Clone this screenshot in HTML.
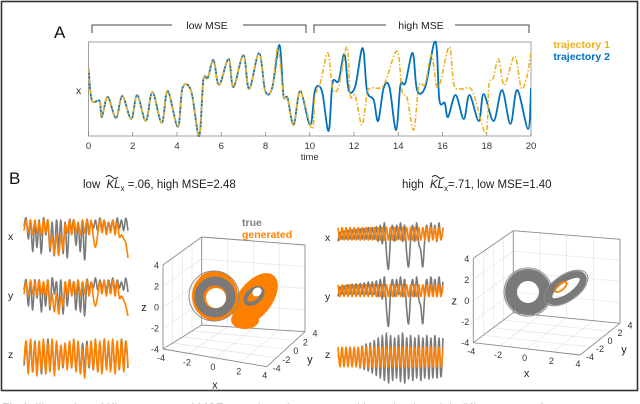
<!DOCTYPE html>
<html><head><meta charset="utf-8"><style>
html,body{margin:0;padding:0;background:#fff;}
svg{display:block;font-family:"Liberation Sans",sans-serif;}
</style></head><body>
<svg id="fig" width="640" height="404" viewBox="0 0 640 404">
<rect x="1.5" y="1.5" width="636" height="389" fill="#fff" stroke="#333" stroke-width="1.6"/>
<text x="2" y="412" font-size="12" fill="#999">Fig 1. Illustration of KL measure and MSE on trajectories generated by trained models (KL measure of state space agreement)</text>
<text x="54" y="38" font-size="17" fill="#111">A</text>
<text x="9" y="184" font-size="17" fill="#111">B</text>
<g id="brackets" stroke="#444" stroke-width="1" fill="none">
<path d="M92,33 V25 H172 M243,25 H306 V33"/>
<path d="M314,33 V25 H386 M455,25 H529 V33"/>
</g>
<text x="207" y="29" font-size="10.5" text-anchor="middle" fill="#222">low MSE</text>
<text x="421" y="29" font-size="10.5" text-anchor="middle" fill="#222">high MSE</text>
<g id="panelA"></g>
<text x="610" y="48" font-size="10.5" font-weight="bold" text-anchor="end" fill="#EDB120">trajectory 1</text>
<text x="610" y="60" font-size="10.5" font-weight="bold" text-anchor="end" fill="#0072BD">trajectory 2</text>
<g>
<text x="83" y="188" font-size="11.5" fill="#222">low <tspan font-style="italic" dx="3">KL</tspan><tspan font-size="8" dy="3">x</tspan><tspan dy="-3"> =.06, high MSE=2.48</tspan></text>
<path d="M106,177 q3,-3 6,0 t6,0" stroke="#222" fill="none" stroke-width="0.9"/>
</g>
<g>
<text x="402" y="188" font-size="11.5" fill="#222">high <tspan font-style="italic" dx="3">KL</tspan><tspan font-size="8" dy="3">x</tspan><tspan dy="-3">=.71, low MSE=1.40</tspan></text>
<path d="M432,177 q3,-3 6,0 t6,0" stroke="#222" fill="none" stroke-width="0.9"/>
</g>
<g id="minis"></g>
<g id="p3dL"></g>
<g id="p3dR"></g>
<text x="242" y="226" font-size="10.5" font-weight="bold" fill="#808080">true</text>
<text x="242" y="238" font-size="10.5" font-weight="bold" fill="#FF8000">generated</text>
</svg>
<script>
// ---- Panel A data ----
const sharedT = [0,0.15,0.5,0.6,0.87,1.24,1.53,1.93,2.2,2.59,2.89,3.31,3.58,4.04,4.25,4.64,5.0,5.19,5.39,5.65,5.9,6.33,6.55,7.0,7.26,7.71,7.99,8.3];
const sharedV = [68,36,35,19,39,18,40,17,41,15,44,13,45,9,48,45,0,56,58,76,51,77,49,81,47,83,45,48];
const blueT = [8.63,8.81,9.0,9.27,9.57,10.02,10.24,10.55,10.85,11.03,11.3,11.57,11.76,12.06,12.39,12.59,12.89,13.09,13.34,13.6,13.9,14.1,14.32,14.65,14.85,15.22,15.68,15.86,16.1,16.25,16.59,16.96,17.22,17.64,17.86,18.31,18.69,19.07,19.38,19.87,20];
const blueV = [91,41,38,11,45,11,46,45,5,53,55,82,46,50,88,45,36,15,48,49,6,51,53,83,46,49,95,36,33,19,41,17,41,15,42,15,46,12,46,7,48];
const orangeT = [8.56,8.81,9.0,9.27,9.57,10.1,10.24,10.48,10.82,11.03,11.3,11.68,11.83,12.06,12.36,12.59,12.75,13.34,13.94,14.17,14.4,14.7,14.93,15.22,15.5,15.8,16.3,16.52,16.9,17.35,17.95,18.1,18.3,18.53,18.8,19.26,19.56,19.8,20];
const orangeV = [88,41,38,11,45,7,40,53,83,48,49,89,41,40,11,42,48,51,85,45,38,6,50,52,81,48,89,51,47,45,3,51,58,77,51,80,48,58,83];
const xTicks = [0,2,4,6,8,10,12,14,16,18,20];

// ---- Panel B mini series (values 0..1, 1 = top) ----
const lgx=[.8,1,.5,.95,.2,.9,.3,.95,.15,1,.6,.95,.2,.9,.1,.95,.3,.95,.15,.9,.05,.95,.7,.95,.35,.9,.2,.95,0,.95,.7,.9,.75,.95,.7,1,.75,.95,.7,.9,.75,.95,.7,1,.75,.95,.7,1,.7];
const lox=[.7,.95,.65,.95,.6,.95,.65,.9,.6,.95,.65,.95,.3,.55,.15,.6,.1,.6,.25,.85,.65,.95,.6,.95,.65,.9,.6,.95,.65,.95,.6,.95,.55,.3,.6,.95,.65,.95,.6,.9,.65,.95,.6,.9,.55,.6,.5,.4,.05];
const lgy=[.7,.95,.3,.9,.2,.95,.5,.95,.15,.9,.3,.95,.2,1,.6,.9,.2,.95,.1,.9,.3,.95,.6,.9,.2,.95,.15,.9,.05,.95,.7,.9,.75,1,.7,.95,.75,.9,.7,.95,.75,1,.7,.95,.75,.9,.7,1,.65];
const loy=[.6,.9,.55,.95,.6,.9,.55,.95,.6,.9,.55,.95,.3,.6,.15,.6,.1,.55,.3,.9,.6,.95,.55,.9,.6,.95,.55,.9,.6,.95,.55,.9,.5,.3,.55,.9,.6,.95,.55,.9,.6,.95,.55,.9,.5,.55,.45,.3,.05];
const lgz=[.3,.8,.2,.85,.15,.9,.2,.85,.1,.8,.2,.95,.25,.8,.2,.85,.3,.75,.25,.8,.3,.85,.25,.9,.2,.8,.15,.85,.2,.9,.25,.8,.2,.9,.15,.85,.2,.95,.25,.8,.2,.9,.15,.85,.2,.95,.3,.9,.25];
const loz=[.4,.9,.1,.95,.15,.85,.05,.9,.2,.95,.1,.85,.15,.95,.05,.9,.2,.8,.3,.85,.2,.9,.25,.95,.15,.9,.1,.7,0,.8,.3,.9,.2,.95,.15,.9,.1,.95,.2,.9,.15,.95,.1,.9,.2,.95,.15,.9,.3];
const rgx=[.6,.8,.65,.82,.65,.84,.65,.85,.65,.86,.65,.87,.65,.88,.65,.9,.65,.9,.65,.92,.6,.95,.55,1,.35,0,.65,.95,.6,.95,.65,1,.6,.95,.35,.05,.65,.95,.6,1,.55,.4,.05,.65,.95,.6,1,.65,.95,.6,1,.65,.9];
const rox=[.9,.63,.9,.63,.9,.63,.9,.63,.9,.63,.9,.63,.9,.63,.9,.63,.9,.63,.9,.63,.9,.63,.9,.63,.9,.63,.9,.63,.9,.63,.9,.63,.9,.63,.9,.63,.9,.63,.9,.63,.9,.63,.9,.63,.9,.63,.9,.63,.9,.63,.9,.63,.9];
const rgy=[.6,.8,.65,.82,.65,.84,.65,.85,.65,.86,.65,.87,.65,.88,.65,.9,.65,.9,.65,.92,.6,.95,.55,1,.35,0,.65,.95,.6,.95,.65,1,.6,.95,.35,.05,.65,.95,.6,1,.55,.4,.05,.65,.95,.6,1,.65,.95,.6,1,.65,.9];
const roy=[.84,.6,.84,.6,.84,.6,.84,.6,.84,.6,.84,.6,.84,.6,.84,.6,.84,.6,.84,.6,.84,.6,.84,.6,.84,.6,.84,.6,.84,.6,.84,.6,.84,.6,.84,.6,.84,.6,.84,.6,.84,.6,.84,.6,.84,.6,.84,.6,.84,.6,.84,.6,.84];
const rgz=[.55,.45,.6,.42,.62,.4,.65,.37,.68,.34,.7,.3,.74,.27,.78,.24,.8,.2,.85,.15,.9,.1,.95,.05,1,0,.95,.05,.9,.1,.95,.03,1,0,.9,.08,.95,.05,.9,.1,.95,.05,.9,.1,.95,.08,.9,.1,.95,.1,.9,.12,.9];
const roz=[.72,.32,.72,.32,.72,.32,.72,.32,.72,.32,.72,.32,.72,.32,.72,.32,.72,.32,.72,.32,.72,.32,.72,.32,.72,.32,.72,.32,.72,.32,.72,.32,.72,.32,.72,.32,.72,.32,.72,.32,.72,.32,.72,.32,.72,.32,.72,.32,.72,.32,.72,.32,.72];

// ---- 3D plot tick labels ----
const axisTicks = [-4,-2,0,2,4];

const NS='http://www.w3.org/2000/svg';
function mk(tag, attrs, parent){const e=document.createElementNS(NS,tag);for(const k in attrs)e.setAttribute(k,attrs[k]);parent.appendChild(e);return e;}
function smooth(pts){
  let d='M'+pts[0][0].toFixed(2)+','+pts[0][1].toFixed(2);
  for(let i=0;i<pts.length-1;i++){
    const p0=pts[Math.max(0,i-1)],p1=pts[i],p2=pts[i+1],p3=pts[Math.min(pts.length-1,i+2)];
    const c1=[p1[0]+(p2[0]-p0[0])/6,p1[1]+(p2[1]-p0[1])/6];
    const c2=[p2[0]-(p3[0]-p1[0])/6,p2[1]-(p3[1]-p1[1])/6];
    d+=' C'+c1[0].toFixed(2)+','+c1[1].toFixed(2)+' '+c2[0].toFixed(2)+','+c2[1].toFixed(2)+' '+p2[0].toFixed(2)+','+p2[1].toFixed(2);
  }
  return d;
}

// ---- Panel A ----
(function(){
  const g=document.getElementById('panelA');
  const X0=88.5,X1=531,Y0=42,Y1=136;
  const xA=t=>X0+(t/20)*(X1-X0);
  const yA=v=>Y1-(v/94)*(Y1-Y0);
  const box=mk('rect',{x:X0,y:Y0,width:X1-X0,height:Y1-Y0,fill:'#fff',stroke:'#a0a0a0','stroke-width':1},g);
  
  
  xTicks.forEach(t=>{
    const tk=mk('line',{x1:xA(t),x2:xA(t),y1:Y1,y2:Y1-4,stroke:'#888','stroke-width':0.8},g);
    
    
    const lb=mk('text',{x:xA(t),y:Y1+13,'font-size':9.5,'text-anchor':'middle',fill:'#333'},g);
    lb.textContent=t;
    
    
  });
  const xt=mk('text',{x:(X0+X1)/2,y:160,'font-size':9.5,'text-anchor':'middle',fill:'#333'},g);
  xt.textContent='time';
  
  
  const yt=mk('text',{x:76,y:94,'font-size':10.5,fill:'#333'},g);
  yt.textContent='x';
  
  
  const clip=mk('clipPath',{id:'clipA'},g);
  mk('rect',{x:X0,y:Y0-1,width:X1-X0,height:Y1-Y0+2},clip);
  const bpts=sharedT.map((t,i)=>[xA(t),yA(sharedV[i])]).concat(blueT.map((t,i)=>[xA(t),yA(blueV[i])]));
  const opts=sharedT.map((t,i)=>[xA(t),yA(sharedV[i])]).concat(orangeT.map((t,i)=>[xA(t),yA(orangeV[i])]));
  const bl=mk('path',{d:smooth(bpts),fill:'none',stroke:'#0072BD','stroke-width':1.8,'clip-path':'url(#clipA)'},g);
  
  
  const ol=mk('path',{d:smooth(opts),fill:'none',stroke:'#EDB120','stroke-width':1.6,'stroke-dasharray':'5 2 1.5 2','clip-path':'url(#clipA)'},g);
  
  
})();

// ---- Mini series ----
(function(){
  const g=document.getElementById('minis');
  const panels=[
    {lab:'x',lx:8,ly:240,x0:24,x1:128,y0:218,y1:260,gray:lgx,org:lox,name:'left-x'},
    {lab:'y',lx:8,ly:299,x0:24,x1:128,y0:278,y1:318,gray:lgy,org:loy,name:'left-y'},
    {lab:'z',lx:8,ly:358,x0:24,x1:128,y0:337,y1:378,gray:lgz,org:loz,name:'left-z'},
    {lab:'x',lx:325,ly:241,x0:338,x1:443,y0:223,y1:269,gray:rgx,org:rox,name:'right-x'},
    {lab:'y',lx:325,ly:300,x0:338,x1:443,y0:277,y1:326,gray:rgy,org:roy,name:'right-y'},
    {lab:'z',lx:325,ly:358,x0:338,x1:443,y0:333,y1:383,gray:rgz,org:roz,name:'right-z'}
  ];
  panels.forEach(p=>{
    const lb=mk('text',{x:p.lx,y:p.ly,'font-size':10.5,fill:'#222'},g);
    lb.textContent=p.lab;
    
    
    [[p.gray,'#7a7a7a'],[p.org,'#FF8000']].forEach(([arr,col],k)=>{
      const n=arr.length;
      const pts=arr.map((v,i)=>[p.x0+i*(p.x1-p.x0)/(n-1),p.y1-v*(p.y1-p.y0)]);
      const pl=mk('path',{d:smooth(pts),fill:'none',stroke:col,'stroke-width':1.6},g);
      
      
    });
  });
})();

// ---- 3D plots ----
function lerp(a,b,f){return [a[0]+(b[0]-a[0])*f,a[1]+(b[1]-a[1])*f];}
function draw3D(gid,c,lobes){
  const g=document.getElementById(gid);
  const L=(p,q,col,w)=>mk('line',{x1:p[0],y1:p[1],x2:q[0],y2:q[1],stroke:col,'stroke-width':w},g);
  for(let i=1;i<4;i++){
    const f=i/4;
    L(lerp(c.tl,c.tr,f),lerp(c.bbl,c.bbr,f),'#e4e4e4',0.7);
    L(lerp(c.tl,c.bbl,f),lerp(c.tr,c.bbr,f),'#e4e4e4',0.7);
    L(lerp(c.tlb,c.tl,f),lerp(c.fl,c.bbl,f),'#e4e4e4',0.7);
    L(lerp(c.tlb,c.fl,f),lerp(c.tl,c.bbl,f),'#e4e4e4',0.7);
    L(lerp(c.fl,c.bbl,f),lerp(c.fb,c.bbr,f),'#e4e4e4',0.7);
    L(lerp(c.fl,c.fb,f),lerp(c.bbl,c.bbr,f),'#e4e4e4',0.7);
  }
  const edges=[[c.fl,c.tlb],[c.tlb,c.tl],[c.tl,c.tr],[c.tr,c.bbr],[c.bbr,c.bbl],[c.bbl,c.tl],[c.bbl,c.fl],[c.fl,c.fb],[c.fb,c.bbr]];
  edges.forEach(e=>{const ln=L(e[0],e[1],'#8a8a8a',0.9);
    
    });
  lobes.forEach(o=>{
    const el=mk('ellipse',{cx:o.cx,cy:o.cy,rx:o.rx,ry:o.ry,fill:o.fill,stroke:o.stroke||'none','stroke-width':o.sw||0,transform:'rotate('+(o.rot||0)+' '+o.cx+' '+o.cy+')'},g);
    
    
  });
  axisTicks.forEach((t,i)=>{
    const f=i/4;
    const zp=lerp(c.fl,c.tlb,f);
    const zl=mk('text',{x:zp[0]-4,y:zp[1]+3.5,'font-size':9,'text-anchor':'end',fill:'#333'},g);
    zl.textContent=t;
    
    
    const xp=lerp(c.fl,c.fb,f);
    const xl=mk('text',{x:xp[0]-2,y:xp[1]+12,'font-size':9,'text-anchor':'middle',fill:'#333'},g);
    xl.textContent=t;
    
    
    const yp=lerp(c.fb,c.bbr,f);
    const yl=mk('text',{x:yp[0]+10,y:yp[1]+5,'font-size':9,'text-anchor':'middle',fill:'#333'},g);
    yl.textContent=t;
    
    
  });
  const ym=lerp(c.fb,c.bbr,0.5);
  [['z',c.fl[0]-19,(c.fl[1]+c.tlb[1])/2+4,'z-axis-title'],['x',(c.fl[0]+c.fb[0])/2,c.fb[1]+22,'x-axis-title'],['y',ym[0]+24,ym[1]+14,'y-axis-title']].forEach(a=>{
    const t=mk('text',{x:a[1],y:a[2],'font-size':11,fill:'#222','text-anchor':'middle'},g);
    t.textContent=a[0];
    
    
  });
}
draw3D('p3dL',{fl:[163,349],tlb:[163,265],tl:[201.7,237],tr:[305,245],bbl:[201.7,325],bbr:[305,331.7],fb:[266.7,366.7]},[
  {name:'generated-wing-right',cx:255,cy:299,rx:17,ry:30,rot:38,fill:'#FF8000'},
  {name:'generated-lobe-left',cx:215,cy:296,rx:23,ry:25,fill:'#FF8000'},
  {name:'generated-bottom',cx:245,cy:320,rx:14,ry:9,fill:'#FF8000'},
  {name:'true-lobe-left',cx:215,cy:297,rx:16,ry:16,fill:'none',stroke:'#7a7a7a',sw:9},
  {name:'true-lobe-left-hole',cx:216,cy:298,rx:10,ry:10,fill:'#fff'},
  {name:'true-lobe-left-outer',cx:214,cy:296,rx:25,ry:25,fill:'none',stroke:'#8a8a8a',sw:1},
  {name:'true-wing-right',cx:254,cy:296,rx:10,ry:6,rot:-40,fill:'none',stroke:'#7a7a7a',sw:4},
  {name:'generated-wing-right-hole',cx:257,cy:292,rx:5,ry:4,rot:-40,fill:'#fff'}
]);
draw3D('p3dR',{fl:[473.3,342.7],tlb:[473.3,258.3],tl:[513.3,230.7],tr:[620,239.3],bbl:[513.3,312.7],bbr:[620,323.3],fb:[580,355]},[
  {name:'true-lobe-left',cx:528,cy:292,rx:17,ry:17,fill:'none',stroke:'#7a7a7a',sw:12},
  {name:'true-lobe-left-outer',cx:528,cy:292,rx:24,ry:24,fill:'none',stroke:'#8a8a8a',sw:1},
  {name:'true-lobe-right',cx:566,cy:288,rx:20,ry:9,rot:-35,fill:'none',stroke:'#7a7a7a',sw:7},
  {name:'true-lobe-right-outer',cx:566,cy:288,rx:25,ry:13,rot:-35,fill:'none',stroke:'#8a8a8a',sw:1},
  {name:'generated-loop',cx:561,cy:287,rx:7,ry:3,rot:-40,fill:'none',stroke:'#FF8000',sw:1.8}
]);
</script>
</body></html>
